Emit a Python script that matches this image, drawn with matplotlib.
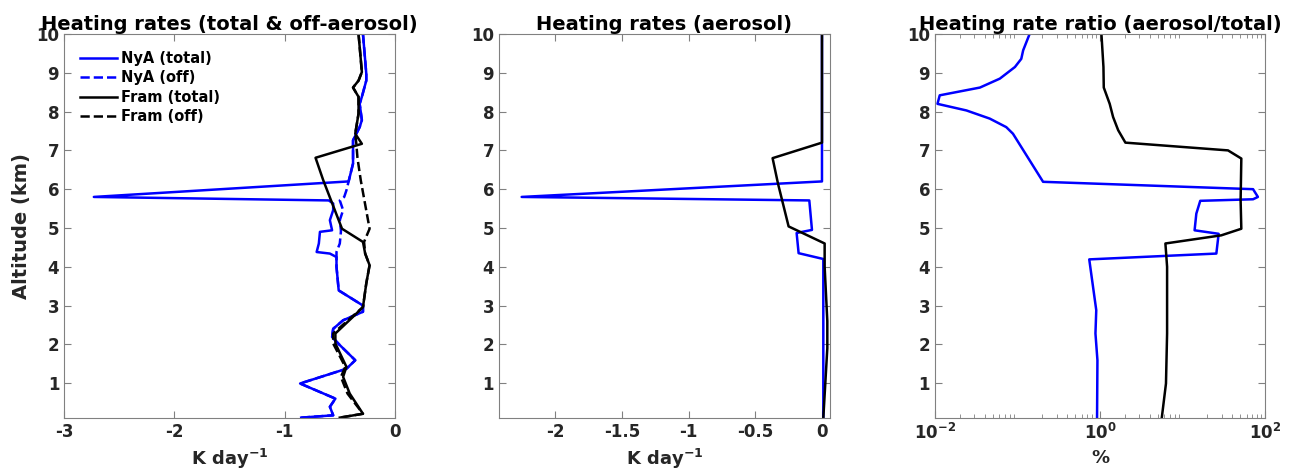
import matplotlib
matplotlib.use("Agg")
import matplotlib.pyplot as plt

# ---- data (altitude in km, heating rates in K/day, ratio in %) ----
nya_tot_z = [10, 8.98, 8.8, 8.38, 8.2, 7.78, 7.6, 7.26, 6.66, 6.2, 5.8, 5.71, 5.63, 5.46, 5.2, 4.94, 4.9,
             4.6, 4.38, 4.34, 4.25, 4.0, 3.39, 3.0, 2.84, 2.62, 2.4, 2.19, 1.98, 1.59, 1.37, 0.99, 0.6,
             0.39, 0.17, 0.11]
nya_tot_x = [-0.29, -0.26, -0.26, -0.30, -0.32, -0.30, -0.32, -0.38, -0.38, -0.42, -2.73, -0.60, -0.56,
             -0.56, -0.59, -0.57, -0.68, -0.69, -0.71, -0.59, -0.53, -0.53, -0.51, -0.29, -0.29, -0.47,
             -0.56, -0.57, -0.50, -0.36, -0.44, -0.86, -0.54, -0.59, -0.56, -0.85]

nya_off_z = [10, 8.98, 8.8, 8.38, 8.2, 7.78, 7.6, 7.26, 6.66, 6.2, 5.97, 5.8, 5.71, 5.46, 5.2, 4.94, 4.9,
             4.6, 4.38, 4.25, 4.0, 3.39, 3.0, 2.84, 2.62, 2.4, 2.19, 1.98, 1.59, 1.37, 0.99, 0.6, 0.39,
             0.17, 0.11]
nya_off_x = [-0.29, -0.26, -0.26, -0.30, -0.32, -0.30, -0.32, -0.38, -0.38, -0.42, -0.44, -0.46, -0.50,
             -0.47, -0.50, -0.49, -0.49, -0.50, -0.53, -0.53, -0.53, -0.51, -0.29, -0.29, -0.47, -0.56,
             -0.57, -0.50, -0.36, -0.44, -0.86, -0.54, -0.59, -0.56, -0.85]

fram_tot_z = [10, 9.02, 8.8, 8.62, 8.38, 7.95, 7.43, 7.17, 6.81, 6.23, 4.98, 4.64, 4.34, 4.04, 3.57,
              2.96, 2.71, 2.28, 2.02, 1.42, 1.16, 0.73, 0.21, 0.11]
fram_tot_x = [-0.33, -0.30, -0.33, -0.38, -0.33, -0.33, -0.36, -0.30, -0.72, -0.65, -0.48, -0.29, -0.27,
              -0.23, -0.26, -0.29, -0.38, -0.54, -0.54, -0.44, -0.47, -0.41, -0.29, -0.50]

fram_off_z = [10, 9.02, 8.8, 8.62, 8.38, 7.95, 7.43, 7.17, 6.81, 6.23, 4.98, 4.64, 4.34, 4.04, 3.57,
              2.96, 2.71, 2.28, 2.02, 1.42, 1.16, 0.73, 0.21, 0.11]
fram_off_x = [-0.33, -0.30, -0.33, -0.38, -0.33, -0.33, -0.36, -0.35, -0.34, -0.31, -0.23, -0.28, -0.27,
              -0.23, -0.26, -0.29, -0.39, -0.56, -0.56, -0.45, -0.49, -0.43, -0.29, -0.50]

nya_aer_z = [10, 6.2, 5.8, 5.71, 4.95, 4.87, 4.35, 4.2, 0.1]
nya_aer_x = [0, 0, -2.25, -0.095, -0.075, -0.19, -0.175, 0.01, 0.01]

fram_aer_z = [10, 7.2, 6.8, 6.15, 5.04, 4.6, 4.0, 2.6, 1.9, 0.1]
fram_aer_x = [0, 0, -0.37, -0.33, -0.25, 0.02, 0.02, 0.04, 0.04, 0.01]

nya_ratio_z = [10, 9.58, 9.36, 9.15, 8.85, 8.62, 8.42, 8.2, 8.03, 7.82, 7.6, 7.43, 6.19, 6.0, 5.8, 5.74,
               5.7, 5.37, 4.94, 4.85, 4.34, 4.19, 2.88, 2.28, 1.59, 0.1]
nya_ratio_x = [0.14, 0.117, 0.111, 0.093, 0.061, 0.035, 0.0114, 0.0107, 0.024, 0.046, 0.073, 0.088, 0.204,
               71.6, 82, 71.6, 16.4, 14.7, 14.0, 27.4, 25.7, 0.74, 0.9, 0.88, 0.93, 0.92]

fram_ratio_z = [10, 9.15, 8.62, 8.2, 7.86, 7.52, 7.2, 7.0, 6.79, 5.71, 4.98, 4.81, 4.6, 4.0, 2.28, 0.99, 0.1]
fram_ratio_x = [1.04, 1.1, 1.11, 1.31, 1.44, 1.66, 2.03, 35.6, 51.6, 50.6, 51.6, 29.5, 6.2, 6.5, 6.5, 6.3, 5.6]

y_ticks = [1, 2, 3, 4, 5, 6, 7, 8, 9, 10]

plt.rcParams["font.family"] = ["DejaVu Sans"]
plt.rcParams["font.weight"] = "bold"
plt.rcParams["mathtext.fontset"] = "dejavusans"
plt.rcParams["mathtext.default"] = "bf"

txt_col = "#262626"
lw = 1.8

fig = plt.figure(figsize=(12.89, 4.76), dpi=100)
ax1 = fig.add_axes([0.0497, 0.1218, 0.2567, 0.8067])
ax2 = fig.add_axes([0.3871, 0.1218, 0.2568, 0.8067])
ax3 = fig.add_axes([0.7254, 0.1218, 0.2560, 0.8067])

# panel 1
ax1.plot(nya_tot_x, nya_tot_z, color="blue", lw=lw, label="NyA (total)")
ax1.plot(nya_off_x, nya_off_z, color="blue", lw=lw, ls="--", label="NyA (off)")
ax1.plot(fram_tot_x, fram_tot_z, color="black", lw=lw, label="Fram (total)")
ax1.plot(fram_off_x, fram_off_z, color="black", lw=lw, ls="--", label="Fram (off)")
ax1.set_xlim(-3, 0)
ax1.set_xticks([-3, -2, -1, 0])
ax1.set_xticklabels(["-3", "-2", "-1", "0"])
ax1.set_title("Heating rates (total & off-aerosol)", fontsize=14, fontweight="bold", pad=3)
ax1.set_ylabel("Altitude (km)", fontsize=14, fontweight="bold", color=txt_col)
ax1.set_xlabel(r"K day$^{-1}$", fontsize=13, fontweight="bold", color=txt_col)
leg = ax1.legend(loc="upper left", bbox_to_anchor=(0.01, 0.99), frameon=False, fontsize=10.5,
                 handlelength=2.5, labelspacing=0.3, handletextpad=0.3)
for t in leg.get_texts():
    t.set_fontweight("bold")

# panel 2
ax2.plot(nya_aer_x, nya_aer_z, color="blue", lw=lw)
ax2.plot(fram_aer_x, fram_aer_z, color="black", lw=lw)
ax2.set_xlim(-2.42, 0.06)
ax2.set_xticks([-2, -1.5, -1, -0.5, 0])
ax2.set_xticklabels(["-2", "-1.5", "-1", "-0.5", "0"])
ax2.set_title("Heating rates (aerosol)", fontsize=14, fontweight="bold", pad=3)
ax2.set_xlabel(r"K day$^{-1}$", fontsize=13, fontweight="bold", color=txt_col)

# panel 3
ax3.plot(nya_ratio_x, nya_ratio_z, color="blue", lw=lw)
ax3.plot(fram_ratio_x, fram_ratio_z, color="black", lw=lw)
ax3.set_xscale("log")
ax3.set_xlim(0.01, 100)
ax3.set_xticks([0.01, 1, 100])
ax3.set_title("Heating rate ratio (aerosol/total)", fontsize=14, fontweight="bold", pad=3)
ax3.set_xlabel("%", fontsize=13, fontweight="bold", color=txt_col)

for ax in (ax1, ax2, ax3):
    ax.set_ylim(0.1, 10)
    ax.set_yticks(y_ticks)
    ax.tick_params(axis="both", which="both", direction="in", top=True, right=True,
                   colors="#808080", labelcolor=txt_col, labelsize=12)
    ax.tick_params(which="major", length=5)
    ax.tick_params(which="minor", length=3)
    for lab in ax.get_xticklabels() + ax.get_yticklabels():
        lab.set_fontweight("bold")
    for sp in ax.spines.values():
        sp.set_color("#808080")
        sp.set_linewidth(0.8)

fig.savefig("out.png", dpi=100)
